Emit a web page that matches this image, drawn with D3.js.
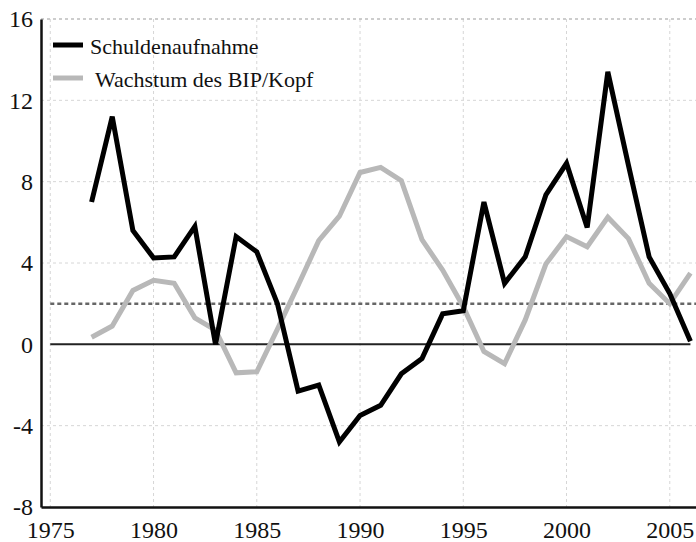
<!DOCTYPE html>
<html>
<head>
<meta charset="utf-8">
<script src="https://cdn.jsdelivr.net/npm/d3@7"></script>
<style>
  body { margin: 0; background: #fff; }
</style>
</head>
<body>
<svg id="svg"></svg>
<script>
const years = d3.range(1977, 2007);
const schulden = [7.0, 11.2, 5.6, 4.25, 4.3, 5.8, 0.0, 5.3, 4.55, 2.0,
    -2.3, -2.0, -4.8, -3.5, -3.0, -1.45, -0.7, 1.5, 1.65, 7.0,
    3.0, 4.3, 7.35, 8.9, 5.75, 13.4, 8.8, 4.3, 2.5, 0.15];
const wachstum = [0.35, 0.9, 2.65, 3.15, 3.0, 1.3, 0.7, -1.4, -1.35, 0.75,
    2.9, 5.1, 6.3, 8.45, 8.7, 8.05, 5.15, 3.65, 1.85, -0.35,
    -0.95, 1.2, 3.95, 5.3, 4.8, 6.25, 5.2, 3.0, 2.0, 3.5];
const xTicks = [1975, 1980, 1985, 1990, 1995, 2000, 2005];
const yTicks = [-8, -4, 0, 4, 8, 12, 16];
const referenceLevel = 2;
const seriesNames = ["Schuldenaufnahme", "Wachstum des BIP/Kopf"];

const serif = "'Liberation Serif', 'Times New Roman', serif";
const W = 696, H = 542;
const margin = { top: 19, right: 0, bottom: 35, left: 41 };
const width = W - margin.left - margin.right,
    height = H - margin.top - margin.bottom;

const svg = d3.select("#svg").attr("width", W).attr("height", H);
const g = svg.append("g")
    .attr("transform", "translate(" + margin.left + "," + margin.top + ")");

const x = d3.scaleLinear().domain([1974.55, 2006.27]).range([0, width]);
const y = d3.scaleLinear().domain([-8, 16]).range([height, 0]);

// grid
g.selectAll(".vgrid").data(xTicks).join("line")
    .attr("x1", d => x(d)).attr("x2", d => x(d))
    .attr("y1", 0).attr("y2", height)
    .attr("stroke", "#d6d6d6").attr("stroke-width", 1)
    .attr("stroke-dasharray", "3,3");
g.selectAll(".hgrid").data(yTicks.filter(d => d !== 0 && d !== -8)).join("line")
    .attr("x1", 0).attr("x2", width)
    .attr("y1", d => y(d)).attr("y2", d => y(d))
    .attr("stroke", d => d === 16 ? "#bdbdbd" : "#d6d6d6")
    .attr("stroke-width", d => d === 16 ? 1.5 : 1)
    .attr("stroke-dasharray", "3,3");

// zero line
g.append("line")
    .attr("x1", x(1975)).attr("x2", x(2006))
    .attr("y1", y(0)).attr("y2", y(0))
    .attr("stroke", "#222").attr("stroke-width", 2);

// reference dotted line
g.append("line")
    .attr("x1", x(1975)).attr("x2", width)
    .attr("y1", y(referenceLevel)).attr("y2", y(referenceLevel))
    .attr("stroke", "#666").attr("stroke-width", 2.5)
    .attr("stroke-dasharray", "4,3");

// axes
const xAxis = g.append("g")
    .attr("transform", "translate(0," + height + ")")
    .call(d3.axisBottom(x).tickValues(xTicks).tickFormat(d => String(d)).tickSize(0).tickPadding(8));
const yAxis = g.append("g")
    .call(d3.axisLeft(y).tickValues(yTicks).tickFormat(d => String(d)).tickSize(0).tickPadding(8));
[xAxis, yAxis].forEach(a => {
    a.attr("font-family", serif).attr("font-size", 24);
    a.select(".domain").attr("stroke", "#111").attr("stroke-width", 2.5);
    a.selectAll("text")
        .style("font-family", serif)
        .style("font-size", "24px")
        .attr("fill", "#111");
});
xAxis.selectAll("text").attr("dy", "0.95em");
yAxis.selectAll("text").attr("dy", "0.33em");

// lines
const line = d3.line()
    .x((d, i) => x(years[i]))
    .y(d => y(d));

g.append("path").datum(wachstum)
    .attr("fill", "none").attr("stroke", "#b8b8b8")
    .attr("stroke-width", 5)
    .attr("d", line);
g.append("path").datum(schulden)
    .attr("fill", "none").attr("stroke", "#000")
    .attr("stroke-width", 5)
    .attr("d", line);

// legend
const legend = svg.append("g");
const legendItems = [
    { name: seriesNames[0], color: "#000", y: 45, tx: 90 },
    { name: seriesNames[1], color: "#b8b8b8", y: 78, tx: 95 }
];
legendItems.forEach(item => {
    legend.append("line")
        .attr("x1", 53).attr("x2", 83)
        .attr("y1", item.y).attr("y2", item.y)
        .attr("stroke", item.color).attr("stroke-width", 5);
    legend.append("text")
        .attr("x", item.tx).attr("y", item.y + 8.5)
        .style("font-family", serif)
        .style("font-size", "22px")
        .attr("fill", "#111")
        .text(item.name);
});
</script>
</body>
</html>
